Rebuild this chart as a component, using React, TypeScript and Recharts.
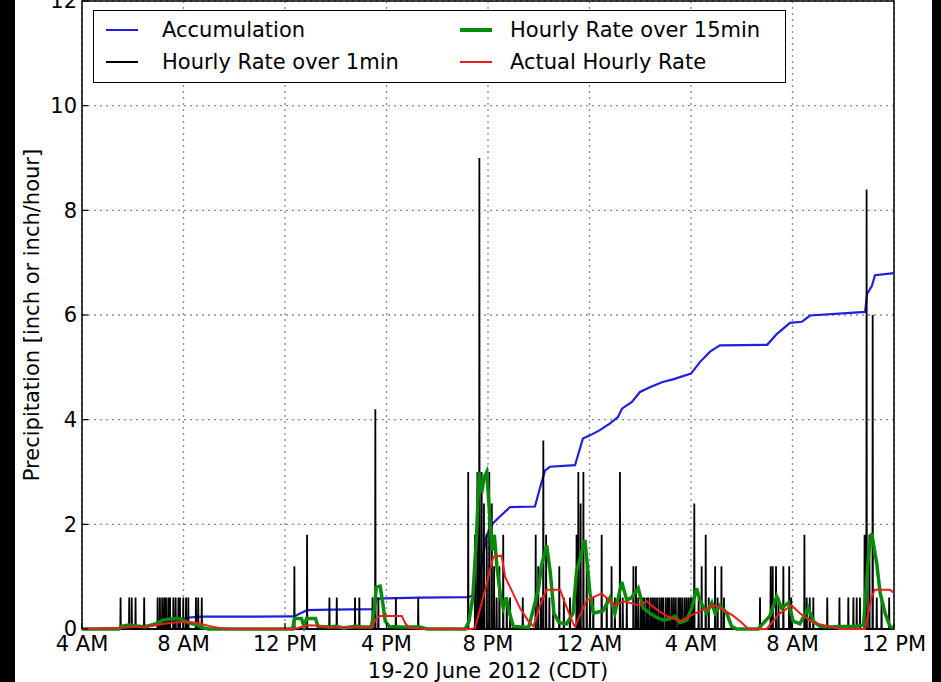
import { LineChart, Line, XAxis, YAxis, CartesianGrid, ReferenceArea } from "recharts";

// x values are hours after 4 AM on 19 June 2012 (CDT)
const tickHours = [0, 4, 8, 12, 16, 20, 24, 28, 32];
const tickLabels = ["4 AM", "8 AM", "12 PM", "4 PM", "8 PM", "12 AM", "4 AM", "8 AM", "12 PM"];
const yTicks = [0, 2, 4, 6, 8, 10, 12];

// accumulated precipitation, inch
const accumulation: [number, number][] = [
  [0, 0], [1.5, 0.01], [2.2, 0.05], [3.0, 0.08], [3.6, 0.15], [4.2, 0.22], [4.7, 0.235],
  [8.35, 0.24], [8.87, 0.36], [9.8, 0.37], [11.5, 0.38], [11.62, 0.58], [12.4, 0.59],
  [13.3, 0.6], [15.2, 0.61], [15.5, 0.65], [15.7, 1.1], [15.95, 1.8], [16.2, 2.02],
  [16.47, 2.15], [16.87, 2.33], [17.85, 2.34], [18.05, 2.7], [18.25, 3.03], [18.44, 3.1],
  [19.43, 3.13], [19.74, 3.64], [20.02, 3.7], [20.41, 3.8], [20.81, 3.93], [21.12, 4.05],
  [21.28, 4.21], [21.67, 4.34], [21.99, 4.53], [22.38, 4.62], [22.88, 4.72], [23.29, 4.77],
  [24.0, 4.88], [24.35, 5.1], [24.75, 5.3], [25.14, 5.42], [27.0, 5.43], [27.39, 5.64],
  [27.9, 5.85], [28.37, 5.87], [28.69, 5.99], [30.86, 6.06], [30.94, 6.4], [31.13, 6.56],
  [31.25, 6.76], [32, 6.8],
];

// one-minute rate spikes (time, inch/hour); each tip of the gauge is 0.6
const rate1min: [number, number][] = [
  [1.52, 0.6], [1.86, 0.6], [1.96, 0.6], [2.11, 0.6], [2.45, 0.6],
  [2.98, 0.6], [3.07, 0.6], [3.16, 0.6], [3.24, 0.6], [3.31, 0.6], [3.4, 0.6], [3.47, 0.6],
  [3.6, 0.6], [3.69, 0.6], [3.8, 0.6], [3.86, 0.6], [3.99, 0.6], [4.1, 0.6], [4.19, 0.6],
  [4.49, 0.6], [4.58, 0.6], [4.72, 0.6],
  [8.37, 1.2], [8.87, 1.8], [9.75, 0.6], [10.04, 0.6], [10.76, 0.6], [10.93, 0.6],
  [11.45, 0.6], [11.56, 4.2], [11.68, 0.6], [12.37, 0.6], [13.25, 0.6],
  [15.22, 3.0], [15.49, 1.8], [15.58, 3.0], [15.66, 9.0], [15.75, 3.0], [15.84, 2.4],
  [15.95, 1.8], [16.05, 3.0], [16.15, 2.4], [16.24, 1.2], [16.34, 0.6], [16.45, 1.2],
  [16.6, 1.8], [16.74, 0.6], [16.87, 0.6], [17.37, 0.6], [17.88, 1.8], [17.98, 1.2],
  [18.09, 0.6], [18.18, 3.6], [18.29, 1.8], [18.42, 0.6], [18.57, 0.6], [18.81, 1.2],
  [18.99, 0.6], [19.23, 0.6], [19.49, 1.8], [19.56, 3.0], [19.65, 2.4], [19.76, 3.0],
  [19.89, 1.2], [20.02, 0.6], [20.15, 0.6], [20.48, 1.8], [20.68, 0.6], [20.87, 1.2],
  [21.0, 0.6], [21.2, 3.0], [21.31, 0.6], [21.47, 0.6], [21.73, 1.2], [21.83, 1.2],
  [21.92, 0.6], [22.02, 0.6], [22.1, 0.6], [22.17, 0.6], [22.26, 0.6], [22.33, 0.6],
  [22.42, 0.6], [22.5, 0.6], [22.58, 0.6], [22.66, 0.6], [22.75, 0.6], [22.83, 0.6],
  [22.9, 0.6], [23.0, 0.6], [23.08, 0.6], [23.15, 0.6], [23.24, 0.6], [23.32, 0.6],
  [23.4, 0.6], [23.5, 0.6], [23.57, 0.6], [23.65, 0.6], [23.74, 0.6], [23.82, 0.6],
  [23.9, 0.6], [23.98, 0.6], [24.05, 0.6], [24.13, 2.4], [24.3, 0.6], [24.42, 1.2],
  [24.58, 1.8], [24.7, 0.6], [24.95, 1.2], [25.05, 0.6], [25.2, 1.2], [25.3, 0.6],
  [26.72, 0.6], [27.14, 1.2], [27.22, 1.2], [27.35, 1.2], [27.45, 0.6], [27.64, 1.2],
  [27.87, 1.2], [27.95, 0.6], [28.47, 1.8], [28.56, 0.6], [28.68, 0.6], [28.82, 0.6],
  [29.37, 0.6], [29.85, 0.6], [30.2, 0.6], [30.4, 0.6], [30.53, 0.6], [30.66, 0.6],
  [30.84, 1.8], [30.92, 8.4], [31.03, 1.8], [31.16, 6.0], [31.32, 0.6], [31.51, 0.6],
  [31.81, 0.6],
];

// rate over 15 minutes, inch/hour
const rate15min: [number, number][] = [
  [0, 0], [1.45, 0], [1.55, 0.05], [1.9, 0.08], [2.1, 0.06], [2.5, 0.04], [2.9, 0.1],
  [3.2, 0.17], [3.6, 0.2], [3.9, 0.19], [4.2, 0.12], [4.5, 0.08], [4.8, 0.02], [5.0, 0],
  [8.3, 0], [8.37, 0.2], [8.65, 0.2], [8.75, 0.05], [8.85, 0.2], [9.2, 0.2], [9.3, 0.05],
  [9.75, 0.04], [10.0, 0.05], [10.3, 0.02], [10.8, 0.05], [11.0, 0.04], [11.4, 0.04],
  [11.5, 0.3], [11.6, 0.8], [11.75, 0.82], [11.85, 0.5], [11.95, 0.15], [12.1, 0.05],
  [12.5, 0.04], [13.3, 0.04], [13.6, 0], [15.1, 0], [15.25, 0.15], [15.4, 0.6],
  [15.55, 1.8], [15.65, 3.0], [15.75, 2.6], [15.85, 2.9], [15.95, 3.0], [16.05, 2.3],
  [16.15, 1.5], [16.25, 1.8], [16.35, 1.2], [16.5, 0.6], [16.6, 0.4], [16.72, 0.6],
  [16.85, 0.3], [17.0, 0.05], [17.6, 0.03], [17.85, 0.5], [18.0, 0.8], [18.1, 1.2],
  [18.31, 1.6], [18.45, 1.1], [18.6, 0.3], [18.8, 0.12], [19.1, 0.1], [19.35, 0.3],
  [19.49, 1.1], [19.82, 1.7], [20.02, 0.68], [20.15, 0.3], [20.54, 0.35], [20.81, 0.6],
  [21.0, 0.3], [21.27, 0.9], [21.47, 0.55], [21.66, 0.6], [21.92, 0.78], [22.12, 0.4],
  [22.38, 0.3], [22.65, 0.22], [22.91, 0.17], [23.17, 0.2], [23.37, 0.24], [23.57, 0.12],
  [23.83, 0.17], [24.03, 0.4], [24.22, 0.78], [24.35, 0.55], [24.62, 0.3], [24.82, 0.5],
  [24.95, 0.3], [25.14, 0.45], [25.41, 0.3], [25.6, 0.05], [25.8, 0], [26.65, 0],
  [26.79, 0.08], [27.11, 0.25], [27.38, 0.62], [27.57, 0.4], [27.84, 0.5], [28.03, 0.15],
  [28.29, 0.1], [28.62, 0.4], [28.82, 0.15], [29.08, 0.05], [29.5, 0.04], [30.0, 0.05],
  [30.5, 0.05], [30.8, 0.08], [30.99, 1.38], [31.12, 1.83], [31.32, 1.25], [31.45, 0.7],
  [31.65, 0.3], [31.84, 0.05], [32, 0.02],
];

// actual hourly rate, inch/hour
const actualRate: [number, number][] = [
  [0, 0], [1.5, 0.02], [2.0, 0.04], [2.5, 0.05], [3.0, 0.08], [3.5, 0.12], [4.1, 0.14],
  [4.5, 0.12], [5.0, 0.06], [5.4, 0.02], [5.8, 0], [8.3, 0], [8.5, 0.02], [8.9, 0.07],
  [9.4, 0.06], [9.7, 0.03], [11.4, 0.03], [11.6, 0.2], [11.75, 0.25], [12.6, 0.25],
  [12.75, 0.1], [12.9, 0.02], [13.3, 0.01], [15.3, 0], [15.49, 0.02], [15.95, 0.87],
  [16.21, 1.38], [16.54, 1.4], [16.67, 1.0], [16.87, 0.8], [17.26, 0.4], [17.59, 0.15],
  [17.79, 0.05], [18.05, 0.45], [18.31, 0.75], [18.84, 0.75], [19.03, 0.5], [19.36, 0.1],
  [19.43, 0.05], [19.89, 0.55], [20.48, 0.68], [21.0, 0.45], [21.33, 0.53], [21.99, 0.45],
  [22.25, 0.53], [22.65, 0.37], [23.04, 0.25], [23.57, 0.15], [24.09, 0.28], [24.48, 0.37],
  [24.95, 0.45], [25.27, 0.37], [25.67, 0.25], [26.0, 0.12], [26.26, 0], [26.98, 0],
  [27.5, 0.3], [27.97, 0.45], [28.29, 0.3], [28.82, 0.12], [29.35, 0.06], [29.87, 0],
  [30.86, 0], [31.12, 0.62], [31.25, 0.75], [31.84, 0.75], [31.97, 0.7],
];

const FONT = "'DejaVu Sans', sans-serif";

const toRows = (pts: [number, number][]) => pts.map(([t, v]) => ({ t, v }));

const spikeRows = [
  { t: 0, v: 0 },
  ...rate1min.flatMap(([t, v]) => [
    { t: t - 0.01, v: 0 },
    { t, v },
    { t: t + 0.01, v: 0 },
  ]),
  { t: 32, v: 0 },
];

const legendItems = [
  { name: "Accumulation", color: "#1f1fe0", width: 2 },
  { name: "Hourly Rate over 1min", color: "#000", width: 2 },
  { name: "Hourly Rate over 15min", color: "#0a8a0a", width: 4 },
  { name: "Actual Hourly Rate", color: "#ee1c1c", width: 2 },
];

const LegendBox = () => (
  <div
    style={{
      position: "absolute",
      left: 93,
      top: 10,
      width: 691,
      height: 71,
      border: "1.5px solid #000",
      background: "#fff",
      fontFamily: FONT,
      fontSize: 21,
      color: "#000",
    }}
  >
    {legendItems.map((it, i) => {
      const col = Math.floor(i / 2);
      const row = i % 2;
      return (
        <div
          key={it.name}
          style={{
            position: "absolute",
            left: col === 0 ? 12 : 366,
            top: row === 0 ? 4 : 36,
            height: 30,
            display: "flex",
            alignItems: "center",
            whiteSpace: "nowrap",
          }}
        >
          <span
            style={{
              display: "inline-block",
              width: 32,
              height: it.width,
              background: it.color,
              marginRight: col === 0 ? 24 : 18,
            }}
          />
          {it.name}
        </div>
      );
    })}
  </div>
);

const tickStyle = { fill: "#000", fontSize: 21, fontFamily: FONT };

export default function App() {
  return (
    <div style={{ position: "fixed", left: 0, top: 0, width: 941, height: 682, background: "#000" }}>
      <div style={{ position: "absolute", left: 15, top: 0, width: 917, height: 682, background: "#fff" }} />
      <div style={{ position: "absolute", left: 0, top: 0 }}>
        <LineChart width={941} height={682} margin={{ top: 1, right: 47, bottom: 0, left: 32 }}>
          <CartesianGrid stroke="#8a8a8a" strokeDasharray="2 4" strokeWidth={1.3} />
          <XAxis
            type="number"
            dataKey="t"
            domain={[0, 32]}
            ticks={tickHours}
            tickFormatter={(h: number) => tickLabels[tickHours.indexOf(h)]}
            axisLine={false}
            tickLine={{ stroke: "#000", strokeWidth: 1.2 }}
            tickSize={-6}
            tickMargin={13}
            height={53}
            tick={tickStyle}
            interval={0}
            label={{
              value: "19-20 June 2012 (CDT)",
              position: "insideBottom",
              offset: 4,
              fill: "#000",
              fontSize: 21,
              fontFamily: FONT,
            }}
          />
          <XAxis
            xAxisId="top"
            orientation="top"
            type="number"
            domain={[0, 32]}
            ticks={tickHours}
            height={0}
            axisLine={false}
            tick={false}
            tickLine={{ stroke: "#000", strokeWidth: 1.2 }}
            tickSize={-6}
          />
          <YAxis
            type="number"
            domain={[0, 12]}
            ticks={yTicks}
            axisLine={false}
            tickLine={{ stroke: "#000", strokeWidth: 1.2 }}
            tickSize={-6}
            tickMargin={11}
            width={50}
            interval={0}
            tick={tickStyle}
          />
          <YAxis
            yAxisId="right"
            orientation="right"
            type="number"
            domain={[0, 12]}
            ticks={yTicks}
            width={0}
            axisLine={false}
            tick={false}
            tickLine={{ stroke: "#000", strokeWidth: 1.2 }}
            tickSize={-6}
          />
          <Line data={toRows(accumulation)} dataKey="v" type="linear" stroke="#1f1fe0" strokeWidth={2.2} dot={false} isAnimationActive={false} />
          <Line data={spikeRows} dataKey="v" type="linear" stroke="#000" strokeWidth={1.8} dot={false} isAnimationActive={false} />
          <Line data={toRows(rate15min)} dataKey="v" type="linear" stroke="#0a8a0a" strokeWidth={3.5} dot={false} isAnimationActive={false} />
          <Line data={toRows(actualRate)} dataKey="v" type="linear" stroke="#ee1c1c" strokeWidth={2} dot={false} isAnimationActive={false} />
          <ReferenceArea x1={0} x2={32} y1={0} y2={12} fill="none" stroke="#000" strokeWidth={1.5} />
        </LineChart>
      </div>
      <div
        style={{
          position: "absolute",
          left: 32,
          top: 315,
          transform: "translate(-50%, -50%) rotate(-90deg)",
          whiteSpace: "nowrap",
          fontFamily: FONT,
          fontSize: 21,
          color: "#000",
        }}
      >
        Precipitation [inch or inch/hour]
      </div>
      <LegendBox />
    </div>
  );
}
